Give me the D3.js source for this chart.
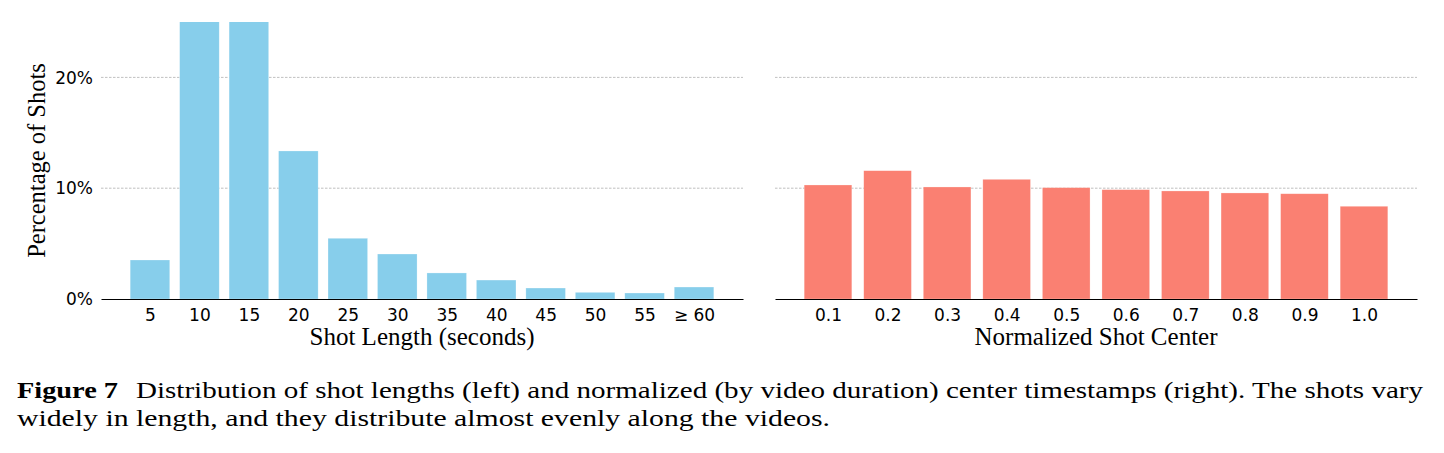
<!DOCTYPE html>
<html>
<head>
<meta charset="utf-8">
<script src="https://cdn.jsdelivr.net/npm/d3@7"></script>
<style>
  body { margin: 0; background: #fff; }
</style>
</head>
<body>
<script>
//Width and height
var w = 1444;
var h = 453;

//Left panel data: shot length buckets (percent of shots)
var lengthLabels = ["5", "10", "15", "20", "25", "30", "35", "40", "45", "50", "55", "\u2265 60"];
var lengthValues = [3.52, 33.5, 32.8, 13.36, 5.48, 4.06, 2.35, 1.71, 0.99, 0.60, 0.54, 1.08];

//Right panel data: normalized shot center (percent of shots)
var centerLabels = ["0.1", "0.2", "0.3", "0.4", "0.5", "0.6", "0.7", "0.8", "0.9", "1.0"];
var centerValues = [10.29, 11.58, 10.11, 10.80, 10.05, 9.87, 9.75, 9.57, 9.50, 8.37];

var yTicks = [0, 10, 20];

var svg = d3.select("body")
			.append("svg")
			.attr("width", w)
			.attr("height", h);

//shared y scale, both panels clip at 25%
var yScale = d3.scaleLinear()
				.domain([0, 25])
				.range([299, 22]);

function drawPanel(labels, values, left, right, color, xTitle, id) {
	var n = labels.length;
	//matplotlib style margins: bars of width 0.8 plus 5% padding
	var span = (n - 1) + 0.8;
	var pad = span * 0.05;
	var xScale = d3.scaleLinear()
					.domain([-0.4 - pad, n - 1 + 0.4 + pad])
					.range([left, right]);

	var g = svg.append("g");

	g.append("clipPath")
	 .attr("id", "clip" + id)
	 .append("rect")
	 .attr("x", left)
	 .attr("y", yScale(25))
	 .attr("width", right - left)
	 .attr("height", yScale(0) - yScale(25));

	//dashed grid lines
	g.selectAll("line.grid")
	 .data(yTicks.filter(function(d) { return d > 0; }))
	 .enter()
	 .append("line")
	 .attr("class", "grid")
	 .attr("x1", left)
	 .attr("x2", right)
	 .attr("y1", function(d) { return yScale(d); })
	 .attr("y2", function(d) { return yScale(d); })
	 .attr("stroke", "#b0b0b0")
	 .attr("stroke-width", 0.8)
	 .attr("stroke-dasharray", "2.5,1.5");

	//bars
	g.append("g")
	 .attr("clip-path", "url(#clip" + id + ")")
	 .selectAll("rect")
	 .data(values)
	 .enter()
	 .append("rect")
	 .attr("x", function(d, i) { return xScale(i - 0.4); })
	 .attr("y", function(d) { return yScale(d); })
	 .attr("width", xScale(0.8) - xScale(0))
	 .attr("height", function(d) { return yScale(0) - yScale(d); })
	 .attr("fill", color)
	 .attr("stroke", "#ffffff")
	 .attr("stroke-opacity", 0.4)
	 .attr("stroke-width", 0.6);

	//bottom spine only, no tick marks
	var xAxis = d3.axisBottom(xScale)
					.tickValues(d3.range(n))
					.tickFormat(function(d) { return labels[d]; })
					.tickSize(0)
					.tickPadding(0);

	var ax = g.append("g")
			  .attr("transform", "translate(0," + yScale(0) + ")")
			  .call(xAxis);
	ax.select(".domain").attr("stroke", "#000").attr("stroke-width", 1.1);
	ax.selectAll("text")
	  .attr("dy", null)
	  .attr("y", 21.5)
	  .attr("font-family", "DejaVu Sans")
	  .attr("font-size", "17px")
	  .attr("fill", "#000");

	//x title
	g.append("text")
	 .attr("x", (left + right) / 2)
	 .attr("y", 345)
	 .attr("text-anchor", "middle")
	 .attr("font-family", "Liberation Serif")
	 .attr("font-size", "25px")
	 .attr("fill", "#000")
	 .text(xTitle);

	return g;
}

drawPanel(lengthLabels, lengthValues, 101, 743, "#87ceeb", "Shot Length (seconds)", "L");
drawPanel(centerLabels, centerValues, 775, 1417, "#fa8072", "Normalized Shot Center", "R");

//y tick labels (left panel only)
svg.selectAll("text.ytick")
   .data(yTicks)
   .enter()
   .append("text")
   .attr("class", "ytick")
   .attr("x", 93)
   .attr("y", function(d) { return yScale(d); })
   .attr("dy", "0.36em")
   .attr("text-anchor", "end")
   .attr("font-family", "DejaVu Sans")
   .attr("font-size", "17px")
   .attr("fill", "#000")
   .text(function(d) { return d + "%"; });

//y title
svg.append("text")
   .attr("transform", "translate(45," + (yScale(0) + yScale(25)) / 2 + ") rotate(-90)")
   .attr("text-anchor", "middle")
   .attr("font-family", "Liberation Serif")
   .attr("font-size", "24.5px")
   .attr("fill", "#000")
   .text("Percentage of Shots");

//Caption, split so the bold label and the rest do not collide
var capSize = "24px";

svg.append("text")
   .attr("x", 17)
   .attr("y", 398)
   .attr("font-family", "Liberation Serif")
   .attr("font-size", capSize)
   .attr("font-weight", "bold")
   .attr("fill", "#000")
   .attr("textLength", 101)
   .attr("lengthAdjust", "spacingAndGlyphs")
   .text("Figure 7");

svg.append("text")
   .attr("x", 136)
   .attr("y", 398)
   .attr("font-family", "Liberation Serif")
   .attr("font-size", capSize)
   .attr("fill", "#000")
   .attr("textLength", 1287)
   .attr("lengthAdjust", "spacingAndGlyphs")
   .text("Distribution of shot lengths (left) and normalized (by video duration) center timestamps (right). The shots vary");

svg.append("text")
   .attr("x", 17)
   .attr("y", 426)
   .attr("font-family", "Liberation Serif")
   .attr("font-size", capSize)
   .attr("fill", "#000")
   .attr("textLength", 813)
   .attr("lengthAdjust", "spacingAndGlyphs")
   .text("widely in length, and they distribute almost evenly along the videos.");
</script>
</body>
</html>
